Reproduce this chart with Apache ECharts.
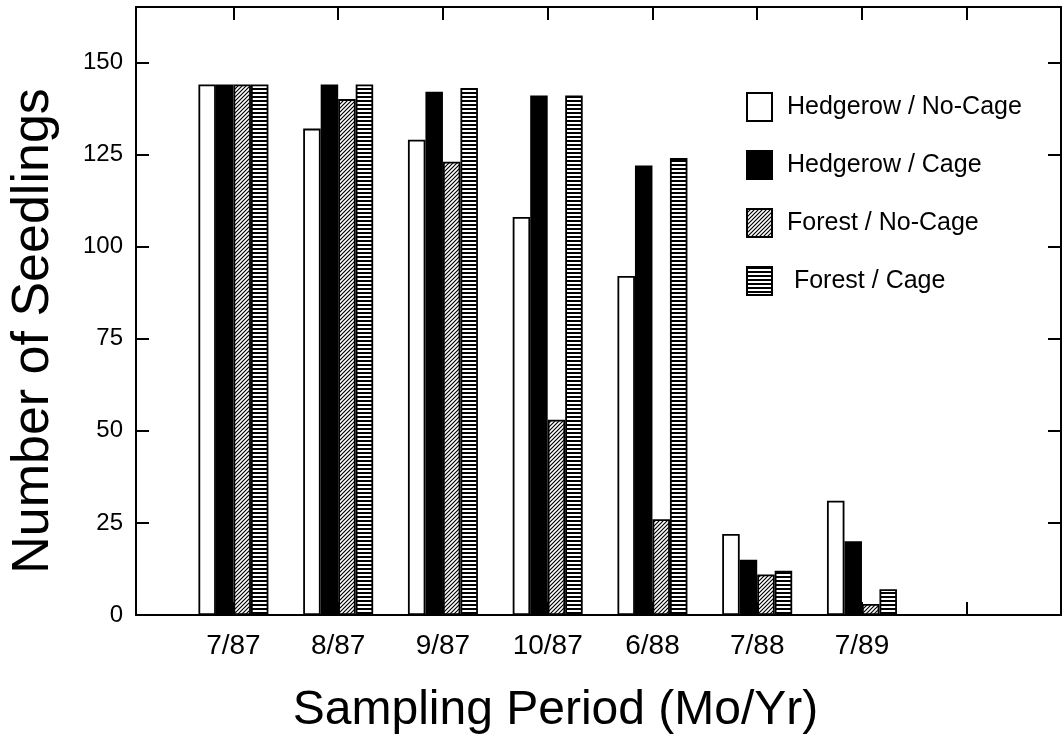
<!DOCTYPE html>
<html>
<head>
<meta charset="utf-8">
<title>Number of Seedlings by Sampling Period</title>
<script src="https://cdn.jsdelivr.net/npm/echarts@6/dist/echarts.min.js"></script>
<style>
  html, body { margin: 0; padding: 0; background: #ffffff; }
  #chart { width: 1064px; height: 740px; }
</style>
</head>
<body>
<div id="chart"></div>
<script>
  // sampling periods (month/year) and seedling counts per treatment
  const periods = ['7/87', '8/87', '9/87', '10/87', '6/88', '7/88', '7/89'];
  const hedgerowNoCage = [144, 132, 129, 108, 92, 22, 31];
  const hedgerowCage = [144, 144, 142, 141, 122, 15, 20];
  const forestNoCage = [144, 140, 123, 53, 26, 11, 3];
  const forestCage = [144, 144, 143, 141, 124, 12, 7];
  const yTicks = [0, 25, 50, 75, 100, 125, 150];
  const xTicks = [1, 2, 3, 4, 5, 6, 7, 8];

  const FONT = "'Liberation Sans', Arial, Helvetica, sans-serif";

  // small canvases used as repeating fills
  const makePattern = (size, draw) => {
    const c = document.createElement('canvas');
    c.width = size;
    c.height = size;
    const ctx = c.getContext('2d');
    ctx.fillStyle = '#ffffff';
    ctx.fillRect(0, 0, size, size);
    ctx.strokeStyle = '#000000';
    draw(ctx, size);
    return { image: c, repeat: 'repeat' };
  };

  const diagonal = makePattern(4, (ctx, s) => {
    ctx.lineWidth = 1.2;
    ctx.beginPath();
    ctx.moveTo(-1, s + 1);
    ctx.lineTo(s + 1, -1);
    ctx.moveTo(-1, 1);
    ctx.lineTo(1, -1);
    ctx.moveTo(s - 1, s + 1);
    ctx.lineTo(s + 1, s - 1);
    ctx.stroke();
  });

  const stripes = makePattern(4, (ctx, s) => {
    ctx.fillStyle = '#000000';
    ctx.fillRect(0, 0, s, 2);
  });

  const toPoints = (vals) => vals.map((v, i) => [i + 1, v]);

  const barSeries = (name, vals, color) => ({
    name: name,
    type: 'bar',
    data: toPoints(vals),
    barWidth: 17.5,
    barGap: '0%',
    itemStyle: {
      color: color,
      borderColor: '#000000',
      borderWidth: 1.8,
    },
  });

  const frameLine = { onZero: false, lineStyle: { color: '#000000', width: 2 } };
  const innerTick = (values) => ({
    show: true,
    inside: true,
    length: 13,
    customValues: values,
    lineStyle: { color: '#000000', width: 2 },
  });

  const myChart = echarts.init(document.getElementById('chart'), null, {
    renderer: 'canvas',
  });

  myChart.setOption({
    animation: false,
    backgroundColor: '#ffffff',
    textStyle: { fontFamily: FONT },
    grid: {
      left: 135,
      right: 3,
      top: 7,
      height: 611,
    },
    legend: {
      orient: 'vertical',
      left: 741,
      top: 87,
      itemWidth: 25,
      itemHeight: 28,
      itemGap: 28,
      icon: 'rect',
      textStyle: {
        fontFamily: FONT,
        fontSize: 25,
        color: '#000000',
        padding: [0, 0, 0, 10],
      },
      formatter: function (name) {
        return name === 'Forest / Cage' ? ' ' + name : name;
      },
    },
    xAxis: [
      {
        type: 'value',
        position: 'bottom',
        min: 0.07,
        max: 8.9,
        name: 'Sampling Period (Mo/Yr)',
        nameLocation: 'middle',
        nameGap: 72,
        nameTextStyle: {
          fontFamily: FONT,
          fontSize: 48,
          color: '#000000',
          padding: [0, 86, 0, 0],
        },
        splitLine: { show: false },
        axisLine: frameLine,
        axisTick: innerTick(xTicks),
        axisLabel: {
          customValues: xTicks.slice(0, periods.length),
          formatter: function (value) {
            return periods[Math.round(value) - 1] || '';
          },
          fontFamily: FONT,
          fontSize: 28,
          color: '#000000',
          margin: 17,
        },
      },
      {
        type: 'value',
        position: 'top',
        min: 0.07,
        max: 8.9,
        splitLine: { show: false },
        axisLine: frameLine,
        axisTick: innerTick(xTicks),
        axisLabel: { show: false },
      },
    ],
    yAxis: [
      {
        type: 'value',
        position: 'left',
        min: 0,
        max: 165,
        name: 'Number of Seedlings',
        nameLocation: 'middle',
        nameGap: 76,
        nameTextStyle: {
          fontFamily: FONT,
          fontSize: 52,
          color: '#000000',
          padding: [0, 40, 0, 0],
        },
        splitLine: { show: false },
        axisLine: Object.assign({ show: true }, frameLine),
        axisTick: innerTick(yTicks),
        axisLabel: {
          customValues: yTicks,
          fontFamily: FONT,
          fontSize: 24,
          color: '#000000',
          margin: 13,
        },
      },
      {
        type: 'value',
        position: 'right',
        min: 0,
        max: 165,
        splitLine: { show: false },
        axisLine: Object.assign({ show: true }, frameLine),
        axisTick: innerTick(yTicks),
        axisLabel: { show: false },
      },
    ],
    series: [
      barSeries('Hedgerow / No-Cage', hedgerowNoCage, '#ffffff'),
      barSeries('Hedgerow / Cage', hedgerowCage, '#000000'),
      barSeries('Forest / No-Cage', forestNoCage, diagonal),
      barSeries('Forest / Cage', forestCage, stripes),
    ],
  });

  window.addEventListener('resize', function () {
    myChart && myChart.resize();
  });
</script>
</body>
</html>
